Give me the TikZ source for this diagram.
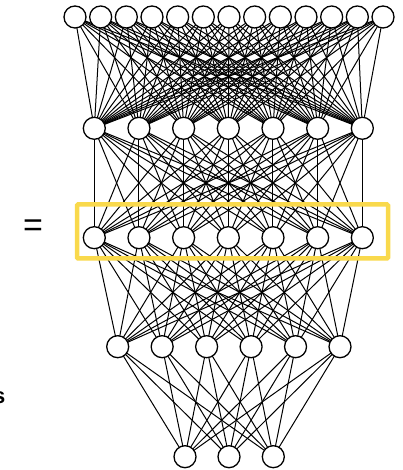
\documentclass[tikz,border=0pt]{standalone}
\usepackage{fontspec}
\setmainfont{Liberation Sans}
\usetikzlibrary{backgrounds}
\definecolor{hlyellow}{RGB}{249,217,76}
\tikzset{
  neuron/.style={circle,draw=black,fill=white,line width=1.3pt,inner sep=0pt,minimum size=22pt},
  wire/.style={draw=black,line width=1pt},
  hlbox/.style={draw=hlyellow,line width=4.5pt,rounded corners=1pt}
}
\begin{document}
\begin{tikzpicture}[x=1pt,y=1pt]
\useasboundingbox (0,0) rectangle (403,470);
% rows
\foreach \i in {0,...,12} \node[neuron] (a\i) at ({75+25.667*\i},{470-17}) {};
\foreach \i in {0,...,6} \node[neuron] (b\i) at ({94.3+44.67*\i},{470-128.3}) {};
\foreach \i in {0,...,6} \node[neuron] (c\i) at ({94.3+44.67*\i},{470-237.7}) {};
\foreach \i in {0,...,5} \node[neuron] (d\i) at ({117.7+44.46*\i},{470-346.7}) {};
\foreach \i/\x in {0/185,1/229,2/273.3} \node[neuron] (e\i) at (\x,{470-456.7}) {};
\begin{scope}[on background layer]
\foreach \i in {0,...,12} \foreach \j in {0,...,6} \draw[wire] (a\i.center) -- (b\j.center);
\foreach \i in {0,...,6} \foreach \j in {0,...,6} \draw[wire] (b\i.center) -- (c\j.center);
\foreach \i in {0,...,6} \foreach \j in {0,...,5} \draw[wire] (c\i.center) -- (d\j.center);
\foreach \i in {0,...,5} \foreach \j in {0,...,2} \draw[wire] (d\i.center) -- (e\j.center);
\end{scope}
\node[hlbox,minimum width=311pt,minimum height=54pt,inner sep=0pt] (box) at (232.5,{470-231.5}) {};
\node[inner sep=0pt,font=\fontsize{34}{34}\selectfont] (eq) at (33,{470-228}) {=};
\node[inner sep=0pt,anchor=east,font=\bfseries\fontsize{22}{22}\selectfont] (s) at (5.5,{470-398}) {s};
\end{tikzpicture}
\end{document}
